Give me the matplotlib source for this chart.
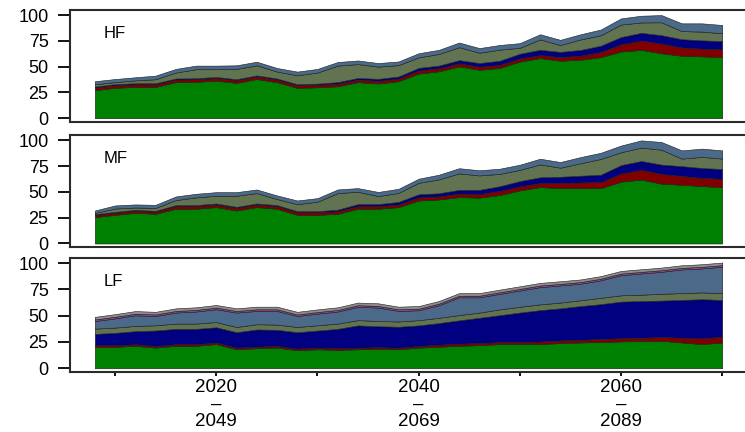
import numpy as np
import matplotlib
matplotlib.use('Agg')
import matplotlib.pyplot as plt

plt.rcParams['font.family'] = ['Liberation Sans', 'DejaVu Sans']

years = list(range(2008, 2071, 2))

# HF scenario layers (bottom to top)
hf_green = [27.2, 29.5, 30.4, 30.4, 35.0, 35.3, 36.5, 34.3, 38.0, 35.0, 29.5, 30.0, 31.0, 35.0, 33.7, 35.9,
            43.3, 45.5, 50.3, 47.0, 48.7, 55.0, 58.3, 55.8, 56.7, 59.3, 64.7, 66.3, 63.0, 60.6, 60.0, 59.3]
hf_red = [2.5, 2.5, 2.5, 2.5, 2.5, 2.5, 2.5, 2.5, 2.5, 2.5, 2.5, 2.5, 2.5, 2.5, 2.5, 2.5,
          3.0, 3.0, 3.0, 3.0, 3.0, 3.0, 3.0, 3.5, 4.0, 5.0, 7.0, 9.0, 9.5, 8.0, 7.5, 7.5]
hf_navy = [1.0, 1.0, 1.0, 1.0, 1.0, 1.0, 1.0, 1.0, 1.0, 1.0, 1.0, 1.0, 1.5, 1.5, 2.0, 2.0,
           2.5, 2.5, 3.0, 3.5, 4.0, 4.5, 5.0, 5.0, 5.5, 6.0, 7.0, 7.5, 8.0, 8.0, 8.0, 8.0]
hf_olive = [2.2, 2.0, 2.8, 3.9, 5.8, 8.7, 7.5, 10.0, 9.8, 6.7, 8.7, 10.8, 16.0, 13.5, 11.8, 11.1,
            10.2, 11.3, 12.6, 10.0, 10.8, 5.8, 10.1, 6.7, 10.2, 10.2, 12.1, 10.1, 12.5, 7.9, 8.5, 7.6]
hf_steel = [3.0, 3.0, 3.0, 3.5, 3.5, 3.5, 3.5, 3.5, 3.5, 3.5, 3.5, 3.5, 3.5, 3.5, 3.5, 3.5,
            4.0, 4.0, 4.5, 4.5, 4.5, 4.5, 5.0, 5.0, 5.0, 5.5, 6.0, 6.5, 7.0, 7.5, 8.0, 8.0]

# MF scenario layers
mf_green = [25.6, 27.8, 29.8, 28.8, 33.7, 33.7, 35.3, 32.0, 35.3, 33.7, 27.8, 27.8, 28.8, 33.7, 33.7, 35.3,
            41.7, 42.7, 45.0, 44.5, 47.0, 51.5, 54.7, 53.7, 53.7, 53.7, 60.0, 62.0, 58.0, 57.0, 55.7, 54.7]
mf_red = [2.0, 2.0, 2.0, 2.0, 2.5, 2.5, 2.5, 2.5, 2.5, 2.5, 2.5, 2.5, 2.5, 2.5, 2.5, 2.5,
          3.0, 3.0, 3.5, 3.5, 4.0, 4.0, 4.0, 5.0, 5.5, 6.0, 8.0, 9.5, 9.5, 8.5, 8.0, 8.0]
mf_navy = [0.8, 0.8, 0.8, 0.8, 1.0, 1.0, 1.0, 1.0, 1.0, 1.0, 1.0, 1.0, 1.5, 2.0, 2.0, 2.5,
           3.0, 3.0, 3.5, 4.0, 4.5, 5.0, 5.5, 6.0, 6.5, 7.0, 8.0, 8.5, 9.0, 9.5, 9.5, 9.5]
mf_olive = [1.2, 3.3, 2.3, 2.9, 4.9, 7.5, 7.5, 10.8, 10.1, 5.9, 6.9, 9.2, 16.1, 12.0, 7.8, 8.7,
            11.1, 13.5, 16.0, 14.0, 12.0, 10.9, 12.5, 8.8, 12.1, 15.3, 12.5, 13.0, 14.4, 7.3, 10.8, 10.1]
mf_steel = [2.4, 3.0, 3.0, 3.0, 3.5, 3.5, 3.5, 3.5, 3.5, 3.5, 3.5, 3.5, 3.5, 3.5, 4.0, 4.0,
            4.0, 4.5, 5.0, 5.0, 5.0, 5.0, 5.5, 5.5, 6.0, 6.0, 6.5, 7.0, 7.5, 8.0, 8.0, 8.0]

# LF scenario layers
lf_green = [20.4, 20.4, 21.4, 19.7, 21.4, 21.4, 23.0, 18.1, 19.1, 19.7, 17.2, 18.1, 17.5, 18.1, 18.5, 18.1,
            19.7, 20.5, 21.4, 22.0, 23.0, 23.0, 23.0, 24.0, 24.6, 25.0, 25.6, 26.0, 26.2, 24.6, 23.0, 24.6]
lf_red = [1.5, 1.5, 1.5, 1.5, 1.5, 1.5, 1.5, 1.5, 1.5, 1.5, 1.5, 1.5, 1.5, 1.5, 1.5, 1.5,
          1.5, 2.0, 2.0, 2.0, 2.0, 2.0, 2.5, 2.5, 2.5, 3.0, 3.0, 3.0, 3.5, 4.5, 5.5, 5.5]
lf_navy = [10.8, 11.8, 12.4, 14.7, 14.6, 14.6, 14.5, 14.7, 16.3, 15.4, 15.6, 16.3, 18.5, 21.2, 20.0, 19.9,
           19.6, 20.5, 22.2, 24.0, 25.5, 28.0, 29.8, 30.5, 32.1, 33.0, 34.8, 35.0, 34.7, 35.9, 37.2, 34.9]
lf_olive = [5.0, 5.0, 5.0, 5.0, 5.0, 5.0, 5.0, 5.0, 5.0, 5.0, 5.0, 5.0, 5.0, 5.0, 5.0, 5.0,
            5.0, 5.0, 5.0, 5.0, 5.5, 5.5, 5.5, 5.5, 5.5, 6.0, 6.0, 6.0, 6.5, 6.5, 6.5, 6.5]
lf_steel = [7.2, 8.8, 10.1, 8.8, 10.5, 11.5, 12.2, 13.7, 12.7, 13.0, 10.4, 11.1, 11.5, 12.7, 12.8, 10.1,
            9.4, 12.0, 16.9, 14.5, 14.8, 15.5, 16.4, 16.3, 15.8, 16.7, 19.2, 20.2, 20.9, 22.5, 22.8, 25.1]
lf_purple = [1.5, 1.5, 1.5, 1.5, 1.5, 1.5, 1.5, 1.5, 1.5, 1.5, 1.5, 1.5, 1.5, 1.5, 1.5, 1.5,
             1.5, 1.5, 1.5, 1.5, 1.5, 1.5, 1.5, 1.5, 1.5, 1.5, 1.5, 1.5, 1.5, 1.5, 1.5, 1.5]
lf_gray = [2.5, 2.5, 2.5, 2.5, 2.5, 2.5, 2.5, 2.5, 2.5, 2.5, 2.5, 2.5, 2.5, 2.5, 2.5, 2.5,
           2.5, 2.5, 2.5, 2.5, 2.5, 2.5, 2.5, 2.5, 2.5, 2.5, 2.5, 2.5, 2.5, 2.5, 2.5, 2.5]

panel_names = ['HF', 'MF', 'LF']
label_ticks = [2020, 2040, 2060]
minor_ticks = [2010, 2030, 2050, 2070]
window = 29

layer_colors = ['#008000', '#800000', '#000080', '#617350', '#4b6a8a', '#9a449a', '#8c8c8c']

panels = [
    [hf_green, hf_red, hf_navy, hf_olive, hf_steel],
    [mf_green, mf_red, mf_navy, mf_olive, mf_steel],
    [lf_green, lf_red, lf_navy, lf_olive, lf_steel, lf_purple, lf_gray],
]

fig = plt.figure(figsize=(7.45, 4.32), dpi=100)

# axes boxes in figure fractions: left, bottom, width, height
boxes = [
    [0.094, 0.718, 0.906, 0.259],
    [0.094, 0.428, 0.906, 0.259],
    [0.094, 0.139, 0.906, 0.264],
]

for i, (layers, name) in enumerate(zip(panels, panel_names)):
    ax = fig.add_axes(boxes[i])
    polys = ax.stackplot(years, *layers, colors=layer_colors[:len(layers)])
    for p in polys:
        p.set_edgecolor('#1a1a1a')
        p.set_linewidth(0.4)

    ax.set_xlim(2005.55, 2072.25)
    ax.set_ylim(-3.5, 105)
    ax.set_yticks([0, 25, 50, 75, 100])
    ax.tick_params(axis='y', length=8.5, width=1.3, pad=7, labelsize=13)
    ax.text(0.05, 0.79, name, transform=ax.transAxes, fontsize=12, va='center', ha='left')

    for side in ['left', 'top', 'bottom']:
        ax.spines[side].set_linewidth(1.5)
        ax.spines[side].set_color('#2b2b2b')
    ax.spines['right'].set_visible(False)

    if i < 2:
        ax.set_xticks([])
    else:
        ax.set_xticks(label_ticks)
        ax.set_xticks(minor_ticks, minor=True)
        ax.set_xticklabels([f'{y}\n\u2013\n{y + window}' for y in label_ticks])
        ax.tick_params(axis='x', which='both', length=3, width=1.3, pad=2, labelsize=13.5)
        for lbl in ax.get_xticklabels():
            lbl.set_linespacing(1.0)

fig.savefig('out.png', dpi=100)
